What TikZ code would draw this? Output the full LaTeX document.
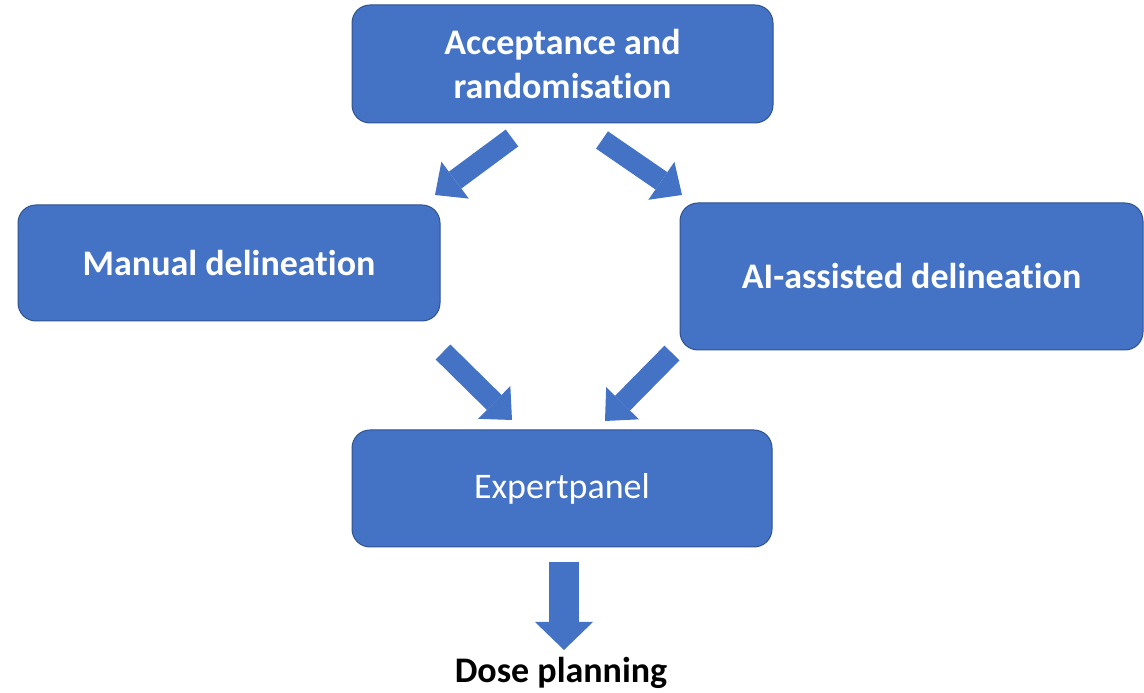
\documentclass[tikz,border=0pt]{standalone}
\usepackage{fontspec}
\setmainfont{Carlito}[Ligatures={NoCommon}]
\usetikzlibrary{arrows.meta}
\definecolor{boxblue}{HTML}{4472C4}
\definecolor{boxline}{HTML}{2F528F}
\tikzset{
  stage/.style={shape=rectangle, rounded corners=18pt, fill=boxblue, draw=boxline,
    line width=1pt, text=white, align=center, inner sep=0pt,
    font=\fontsize{36}{44}\selectfont},
  stagebold/.style={stage, font=\fontsize{36}{44}\selectfont\bfseries},
  blockarrow/.style={draw=boxblue, line width=21pt,
    -{Triangle[width=46pt,length=25pt,line width=0pt]}},
}
\begin{document}
\begin{tikzpicture}[x=1pt,y=1pt]
    \useasboundingbox (0,0) rectangle (1144,693);

    \node[stagebold, minimum width=421pt, minimum height=118pt] (A) at (562.5,629) {Acceptance and\\randomisation};
    \node[stagebold, minimum width=422pt, minimum height=116pt] (M) at (229,430) {Manual delineation};
    \node[stagebold, minimum width=463pt, minimum height=147pt] (AI) at (911.5,416.5) {AI-assisted delineation};
    \node[stage, minimum width=420pt, minimum height=117pt] (E) at (562,204.5) {Expertpanel};
    \node[font=\fontsize{36}{44}\selectfont\bfseries] (D) at (561,20) {Dose planning};

    % block arrows between the stages
    \coordinate (T1) at (512,555); \coordinate (H1) at (435,498);
    \coordinate (T2) at (602,553); \coordinate (H2) at (682,498);
    \coordinate (T3) at (443,341); \coordinate (H3) at (512,273);
    \coordinate (T4) at (672,340); \coordinate (H4) at (605,272);
    \coordinate (T5) at (564,131); \coordinate (H5) at (564,43);

    \draw [blockarrow] (T1) -- (H1);
    \draw [blockarrow] (T2) -- (H2);
    \draw [blockarrow] (T3) -- (H3);
    \draw [blockarrow] (T4) -- (H4);
    \draw [blockarrow, line width=30pt, -{Triangle[width=58pt,length=28pt,line width=0pt]}] (T5) -- (H5);
\end{tikzpicture}
\end{document}
